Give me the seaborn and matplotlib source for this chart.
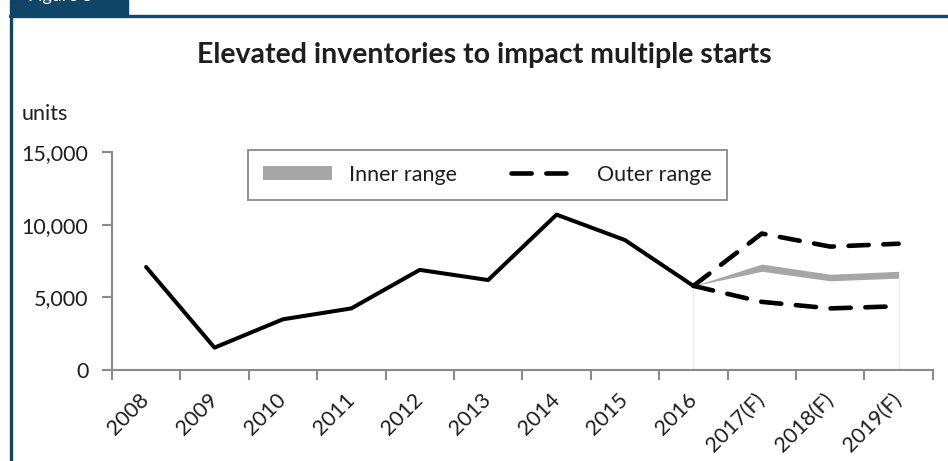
import numpy as np
import pandas as pd
import seaborn as sns
import matplotlib.pyplot as plt
from matplotlib.lines import Line2D
from matplotlib.patches import Rectangle
from matplotlib.ticker import FuncFormatter

# data
years = ["2008", "2009", "2010", "2011", "2012", "2013", "2014", "2015", "2016",
         "2017(F)", "2018(F)", "2019(F)"]
actual = [7100, 1550, 3500, 4250, 6900, 6200, 10700, 8950, 5800]
outer_high = [5800, 9400, 8500, 8700]
outer_low = [5800, 4700, 4250, 4400]
inner_high = [5800, 7300, 6600, 6800]
inner_low = [5800, 6800, 6150, 6330]

sns.set_theme(style="white")
plt.rcParams["font.family"] = ["Lato", "DejaVu Sans"]

blue = "#0f4566"
axis_grey = "#8a8a8a"
band_grey = "#a6a6a6"
ink = "#1e1e1e"

fig = plt.figure(figsize=(9.48, 4.61), dpi=100)
ax = fig.add_axes([0.118, 0.197, 0.866, 0.473])

pos = np.arange(len(years))
hist = pd.DataFrame({"pos": pos[:len(actual)], "value": actual})
fc_pos = pos[len(actual) - 1:]

# faint area edges like the original
ax.vlines([fc_pos[0], fc_pos[-1]], 0, [inner_low[0], inner_low[-1]],
          color="#ececec", lw=0.8, zorder=1)

ax.fill_between(fc_pos, inner_low, inner_high, color=band_grey, lw=0, zorder=2)
sns.lineplot(x=fc_pos, y=outer_high, ax=ax, color="black", lw=3.3, zorder=3)
sns.lineplot(x=fc_pos, y=outer_low, ax=ax, color="black", lw=3.3, zorder=3)
for ln in ax.lines[-2:]:
    ln.set_linestyle((0, (4.4, 3.2)))
    ln.set_dash_capstyle("round")
sns.lineplot(data=hist, x="pos", y="value", ax=ax, color="black", lw=2.9, zorder=4)

ax.set_xlim(-0.5, len(years) - 0.5)
ax.set_ylim(0, 15000)
ax.set_yticks([0, 5000, 10000, 15000])
ax.yaxis.set_major_formatter(FuncFormatter(lambda v, p: f"{int(v):,}"))
ax.set_xticks(np.arange(-0.5, len(years)), labels=[])
ax.set_xticks(pos, labels=years, minor=True)
ax.tick_params(axis="x", which="major", length=7, width=1.5, color=axis_grey,
               direction="out", bottom=True)
ax.tick_params(axis="x", which="minor", length=0, pad=19, labelsize=15.5,
               labelcolor=ink)
ax.tick_params(axis="y", length=7, width=1.5, color=axis_grey, direction="out",
               left=True, labelsize=15.5, pad=10, labelcolor=ink)
for lab in ax.get_xticklabels(minor=True):
    lab.set_rotation(45)
    lab.set_ha("right")
    lab.set_va("center")
    lab.set_rotation_mode("anchor")
ax.set_xlabel("")
ax.set_ylabel("")
for side in ["top", "right"]:
    ax.spines[side].set_visible(False)
for side in ["left", "bottom"]:
    ax.spines[side].set_color(axis_grey)
    ax.spines[side].set_linewidth(1.5)
ax.set_facecolor("white")

handles = [Line2D([], [], color=band_grey, lw=10, solid_capstyle="butt"),
           Line2D([], [], color="black", lw=3.3, linestyle=(0, (4.4, 3.2)),
                  dash_capstyle="round")]
leg = ax.legend(handles, ["Inner range", "Outer range"], ncol=2,
                loc="upper left", bbox_to_anchor=(0.166, 1.012),
                frameon=True, fancybox=False, edgecolor=axis_grey,
                framealpha=1, fontsize=15.5, handlelength=3.2,
                columnspacing=2.5, borderpad=0.7, handletextpad=0.8,
                borderaxespad=0, labelcolor=ink)
leg.get_frame().set_linewidth(1.3)

fig.text(0.511, 0.88, "Elevated inventories to impact multiple starts",
         ha="center", va="center", fontsize=20.5, fontweight="bold", color=ink)
fig.text(0.023, 0.752, "units", ha="left", va="center", fontsize=15.5,
         color=ink)

# report frame: tab at top left, top rule and left rule
fig.patches.append(Rectangle((10 / 948, 1 - 16 / 461), 118 / 948, 16 / 461,
                             transform=fig.transFigure, color=blue, zorder=0))
fig.add_artist(Line2D([10 / 948, 1], [1 - 16 / 461] * 2, color=blue, lw=2.4,
                      transform=fig.transFigure))
fig.add_artist(Line2D([11 / 948] * 2, [0, 1 - 16 / 461], color=blue, lw=2.4,
                      transform=fig.transFigure))
fig.text(28 / 948, 1 - 1.5 / 461, "Figure 5", color="white", fontsize=13,
         ha="left", va="baseline")

fig.savefig("out.png", dpi=100, facecolor="white")
